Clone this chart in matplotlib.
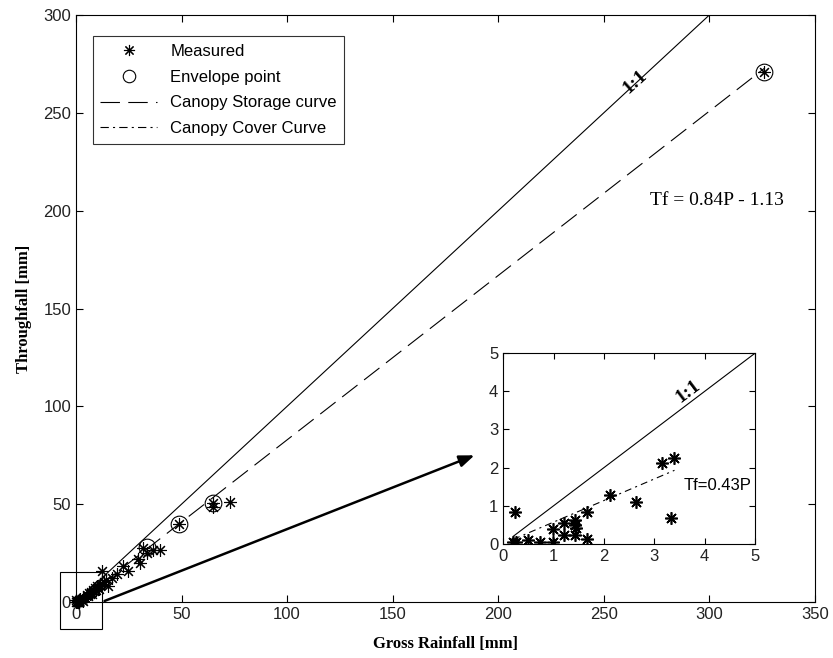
import numpy as np
import matplotlib.pyplot as plt
from matplotlib.patches import Rectangle
from matplotlib.lines import Line2D

plt.rcParams['lines.scale_dashes'] = False
plt.rcParams['font.family'] = ['Liberation Sans', 'DejaVu Sans']

# Measured gross rainfall P and throughfall Tf [mm]
meas_p = [0.23, 0.2, 0.26, 0.5, 0.73, 0.98, 0.98, 1.2, 1.2, 1.42, 1.43, 1.42, 1.44,
          1.67, 1.67, 2.13, 2.63, 3.15, 3.39, 3.34,
          5.2, 5.8, 6.0, 6.5, 7.0, 7.5, 8.0, 8.5, 9.0, 9.5, 10.0, 10.5, 11.0, 11.5,
          12.2, 12.2, 13.2, 14.3, 15.3, 16.9, 19.2, 22.4, 24.7, 29.5, 30.3, 31.9,
          33.5, 36.6, 39.8, 48.8, 64.7, 64.7, 72.8, 326.0]
meas_tf = [0.85, 0.06, 0.06, 0.1, 0.06, 0.39, 0.06, 0.54, 0.24, 0.62, 0.5, 0.24, 0.43,
           0.85, 0.12, 1.28, 1.11, 2.13, 2.26, 0.67,
           3.5, 3.0, 4.5, 4.0, 5.0, 4.0, 6.0, 5.5, 7.0, 6.0, 8.0, 7.0, 6.5, 8.5,
           9.0, 15.9, 10.0, 11.0, 8.2, 12.4, 14.2, 18.4, 15.9, 21.9, 20.1, 27.8,
           25.3, 26.5, 26.5, 39.8, 50.5, 48.5, 51.0, 271.0]

# Envelope points
env_p = [33.8, 48.8, 64.7, 326.0]
env_tf = [28.2, 39.8, 50.5, 271.0]

# Canopy storage curve Tf = 0.84P - 1.13
stor_p = np.array([1.5, 326.0])
stor_tf = 0.84 * stor_p - 1.13

# 1:1 lines
one_p = [0, 300]
inset_one_p = [0.2, 5]

# Canopy cover curve (inset)
cover_p = [0.2, 3.4]
cover_tf = [0.12, 1.93]

star = (8, 2, 0)
serif = ['Liberation Serif', 'DejaVu Serif']

fig = plt.figure(figsize=(8.33, 6.58), dpi=100)
ax = fig.add_axes([0.0912, 0.0851, 0.887, 0.892])

ax.plot(one_p, one_p, color='black', lw=0.8)
ax.plot(stor_p, stor_tf, color='black', lw=0.8, dashes=(14, 6))
ax.plot(meas_p, meas_tf, ls='none', marker=star, ms=9, mec='black', mew=0.8, clip_on=False)
ax.plot(env_p, env_tf, ls='none', marker='o', ms=12, mfc='none', mec='black', mew=0.8)

ax.set_xlim(0, 350)
ax.set_ylim(0, 300)
ax.set_xticks(np.arange(0, 351, 50))
ax.set_yticks(np.arange(0, 301, 50))
ax.tick_params(direction='in', top=True, right=True, length=5, labelsize=12, colors='black')
for lab in ax.get_xticklabels() + ax.get_yticklabels():
    lab.set_color('#222222')

ax.set_xlabel('Gross Rainfall [mm]', family=serif, fontweight='bold', fontsize=12, labelpad=10)
ax.set_ylabel('Throughfall [mm]', family=serif, fontweight='bold', fontsize=12, labelpad=8)

ax.text(265, 266, '1:1', family=serif, fontweight='bold', fontsize=14, rotation=42,
        ha='center', va='center')
ax.text(272, 205, 'Tf = 0.84P - 1.13', family=serif, fontsize=14, ha='left', va='center')

ax.add_patch(Rectangle((-7.6, -13.8), 19.9, 29.2, fill=False, lw=0.8, clip_on=False))
ax.annotate('', xy=(190, 75.5), xytext=(12.3, 0),
            arrowprops=dict(arrowstyle='-|>,head_length=0.9,head_width=0.35',
                            color='black', lw=1.8))

handles = [
    Line2D([], [], ls='none', marker=star, ms=8, mec='black', mew=0.8),
    Line2D([], [], ls='none', marker='o', ms=9, mfc='none', mec='black', mew=0.8),
    Line2D([], [], color='black', lw=0.8, dashes=(14, 6)),
    Line2D([], [], color='black', lw=0.8, dashes=(6, 3, 1.5, 3)),
]
labels = ['Measured', 'Envelope point', 'Canopy Storage curve', 'Canopy Cover Curve']
leg = ax.legend(handles, labels, loc='upper left', bbox_to_anchor=(0.023, 0.964),
                borderaxespad=0, fontsize=12, frameon=True, fancybox=False,
                edgecolor='black', labelspacing=0.65, handlelength=3.4, handletextpad=0.8,
                borderpad=0.45)
leg.get_frame().set_linewidth(0.8)

# Inset
ins = fig.add_axes([0.604, 0.1733, 0.3025, 0.290])
ins.plot(inset_one_p, inset_one_p, color='black', lw=0.8)
ins.plot(cover_p, cover_tf, color='black', lw=0.8, dashes=(5, 3, 1.5, 3))
ins.plot(meas_p, meas_tf, ls='none', marker=star, ms=9, mec='black', mew=1.2)
ins.set_xlim(0, 5)
ins.set_ylim(0, 5)
ins.set_xticks(range(6))
ins.set_yticks(range(6))
ins.tick_params(direction='in', top=True, right=True, length=4, labelsize=12)
for lab in ins.get_xticklabels() + ins.get_yticklabels():
    lab.set_color('#222222')
ins.text(3.68, 3.98, '1:1', family=serif, fontweight='bold', fontsize=14, rotation=37,
         ha='center', va='center')
ins.text(3.58, 1.54, 'Tf=0.43P', fontsize=12, ha='left', va='center')

fig.savefig('out.png', dpi=100)
